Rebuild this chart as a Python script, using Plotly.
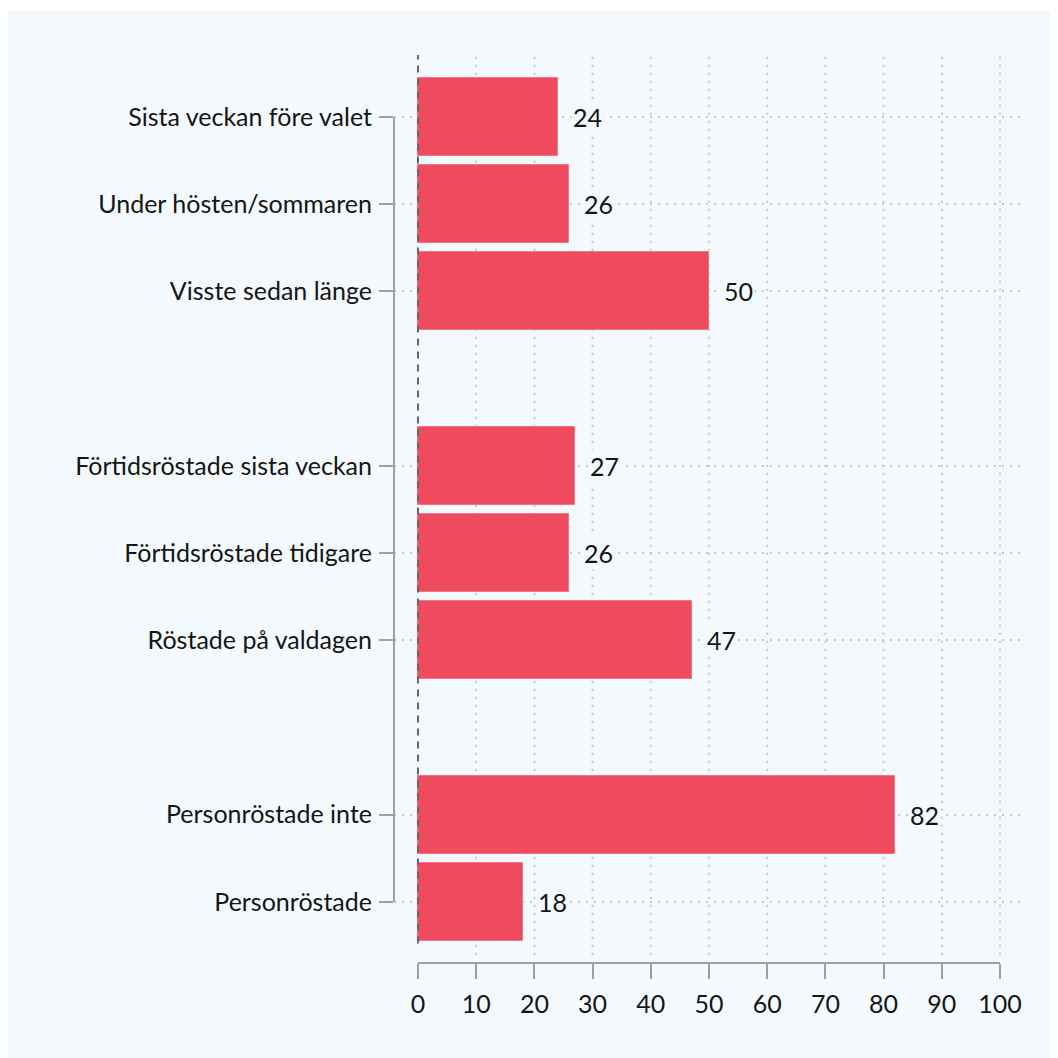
import plotly.graph_objects as go

categories = ["Sista veckan före valet", "Under hösten/sommaren", "Visste sedan länge",
              "Förtidsröstade sista veckan", "Förtidsröstade tidigare", "Röstade på valdagen",
              "Personröstade inte", "Personröstade"]
values = [24, 26, 50, 27, 26, 47, 82, 18]
positions = [0, 1, 2, 4, 5, 6, 8, 9]
x_ticks = [0, 10, 20, 30, 40, 50, 60, 70, 80, 90, 100]

W = H = 1058
FONT = "Lato, Roboto, sans-serif"
FS = 25
PANEL = "#f3f9fd"
BAR = "#f04a5f"
GREY = "#a0a0a0"
TXT = "#151515"

# page is offset by 8px (body margin) -> figure coords = page - 8
ml, mr, mt, mb = 386, 43, 47, 103
pw = W - ml - mr
ph = H - mt - mb
xr = [-4.12, 103.95]
yr = [9.70, -0.71]

fig = go.Figure()
fig.add_trace(go.Bar(
    x=values, y=positions, orientation="h", width=0.895,
    marker=dict(color=BAR, line=dict(color="#f27485", width=1)),
    hoverinfo="skip", showlegend=False,
))

shapes = []
# background panel
shapes.append(dict(type="rect", xref="paper", yref="paper", layer="below",
                   x0=(0 - ml) / pw, x1=(W - ml) / pw,
                   y0=-(mb) / ph, y1=(H - mb - 3) / ph,
                   fillcolor=PANEL, line=dict(width=0)))
# vertical dotted gridlines
for t in x_ticks[1:]:
    shapes.append(dict(type="line", xref="x", yref="y", layer="below",
                       x0=t, x1=t, y0=-0.69, y1=9.61,
                       line=dict(color="#c4c8cc", width=2, dash="2px,6px")))
# zero dashed line
shapes.append(dict(type="line", xref="x", yref="y", layer="above",
                   x0=0, x1=0, y0=-0.74, y1=9.52,
                   line=dict(color="#666666", width=2, dash="7px,6px")))
# x axis line
shapes.append(dict(type="line", xref="x", yref="paper", layer="above",
                   x0=x_ticks[0], x1=x_ticks[-1], y0=0, y1=0,
                   line=dict(color=GREY, width=2)))
# y axis bracket line
shapes.append(dict(type="line", xref="paper", yref="y", layer="above",
                   x0=0, x1=0, y0=positions[0], y1=positions[-1],
                   line=dict(color=GREY, width=2)))

annotations = []
for v, p in zip(values, positions):
    annotations.append(dict(x=v, y=p, xref="x", yref="y", text=str(v),
                            showarrow=False, xanchor="left", yanchor="middle",
                            xshift=13, bgcolor=PANEL,
                            font=dict(family=FONT, size=FS, color=TXT)))

fig.update_layout(
    width=W, height=H,
    margin=dict(l=ml, r=mr, t=mt, b=mb, pad=0),
    paper_bgcolor="white", plot_bgcolor=PANEL,
    font=dict(family=FONT, size=FS, color=TXT),
    shapes=shapes, annotations=annotations,
    bargap=0,
    xaxis=dict(range=xr, tickvals=x_ticks, ticktext=[str(t) for t in x_ticks],
               showgrid=False, zeroline=False, showline=False,
               ticks="outside", ticklen=15, tickwidth=2, tickcolor=GREY,
               ticklabelstandoff=4,
               tickfont=dict(family=FONT, size=FS, color=TXT), fixedrange=True),
    yaxis=dict(range=yr, tickvals=positions, ticktext=categories,
               showgrid=True, gridcolor="#c4c8cc", gridwidth=2, griddash="2px,6px",
               zeroline=False, showline=False,
               ticks="outside", ticklen=14, tickwidth=2, tickcolor=GREY,
               ticklabelstandoff=2,
               tickfont=dict(family=FONT, size=FS, color=TXT), fixedrange=True),
)

fig.write_html("out.html")
